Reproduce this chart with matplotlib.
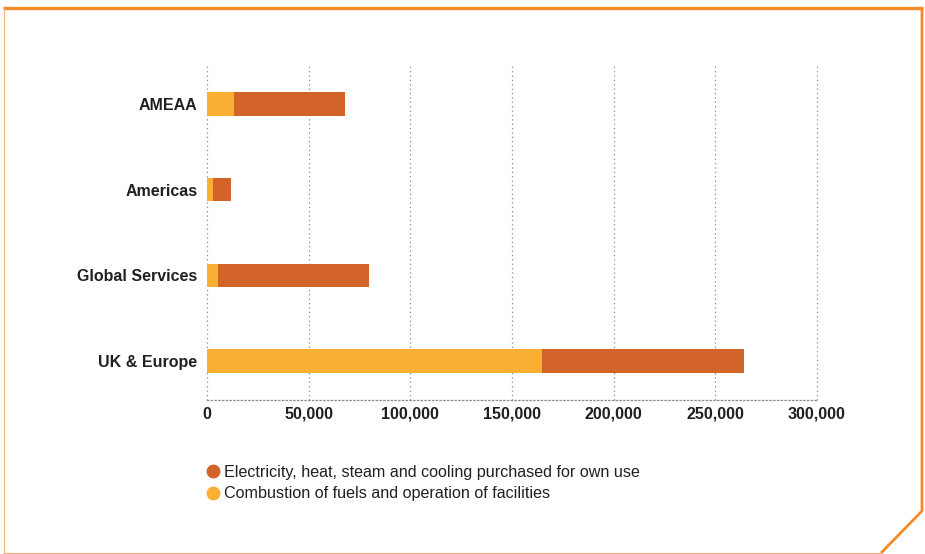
import matplotlib
matplotlib.use("Agg")
import matplotlib.pyplot as plt
from matplotlib.lines import Line2D

plt.rcParams['font.family'] = ['Liberation Sans', 'DejaVu Sans']

regions = ["UK & Europe", "Global Services", "Americas", "AMEAA"]
combustion = [164800, 5400, 3000, 13300]
electricity = [99300, 74300, 8800, 54600]
ticks = [0, 50000, 100000, 150000, 200000, 250000, 300000]

col_elec = "#D2642A"
col_comb = "#FBB034"
col_frame = "#F28C28"
text_col = "#231F20"

fig = plt.figure(figsize=(9.25, 5.54), dpi=100)
ax = fig.add_axes([207 / 925, 1 - 400 / 554, 610 / 925, 335 / 554])

ypos = list(range(len(regions)))
ax.barh(ypos, combustion, height=0.27, color=col_comb, zorder=3)
ax.barh(ypos, electricity, left=combustion, height=0.27, color=col_elec, zorder=3)

ax.set_xlim(0, 300000)
ax.set_ylim(-0.455, 3.455)
ax.set_xticks(ticks)
ax.set_xticklabels([f"{t:,}" for t in ticks], fontsize=11.5, fontweight="bold", color=text_col)
ax.set_yticks(ypos)
ax.set_yticklabels(regions, fontsize=11.5, fontweight="bold", color=text_col)
ax.tick_params(axis="both", length=0)
ax.tick_params(axis="y", pad=7)
ax.tick_params(axis="x", pad=5)

ax.grid(axis="x", color="#8a8a8a", linestyle=(0, (1, 2.5)), linewidth=0.9, zorder=0)
for gl in ax.get_xgridlines():
    gl.set_clip_on(False)
for s in ["top", "right", "left"]:
    ax.spines[s].set_visible(False)
ax.spines["bottom"].set_color("#8a8a8a")
ax.spines["bottom"].set_linestyle((0, (1, 2)))
ax.spines["bottom"].set_linewidth(0.9)

handles = [
    Line2D([], [], marker="o", linestyle="", markersize=9, color=col_elec),
    Line2D([], [], marker="o", linestyle="", markersize=9, color=col_comb),
]
labels = ["Electricity, heat, steam and cooling purchased for own use",
          "Combustion of fuels and operation of facilities"]
leg = fig.legend(handles, labels, loc="upper left", bbox_to_anchor=(198 / 925, 1 - 457 / 554),
                 frameon=False, fontsize=11.6, handlelength=0.8, handletextpad=0.3,
                 labelspacing=0.38, borderpad=0, labelcolor=text_col)

# decorative frame (figure pixel coordinates)
W, H = 925, 554
def fline(xs, ys, lw, c):
    fig.add_artist(Line2D([x / W for x in xs], [1 - y / H for y in ys],
                          transform=fig.transFigure, color=c, linewidth=lw,
                          solid_capstyle="butt"))

fline([3, 923], [8, 8], 2.4, col_frame)
fline([3.5, 3.5], [8, 553], 0.8, "#F5B27A")
fline([922, 922, 881], [8, 511, 553], 2.0, col_frame)
fline([3, 881], [553, 553], 0.8, "#F5B27A")

fig.savefig("out.png", dpi=100)
